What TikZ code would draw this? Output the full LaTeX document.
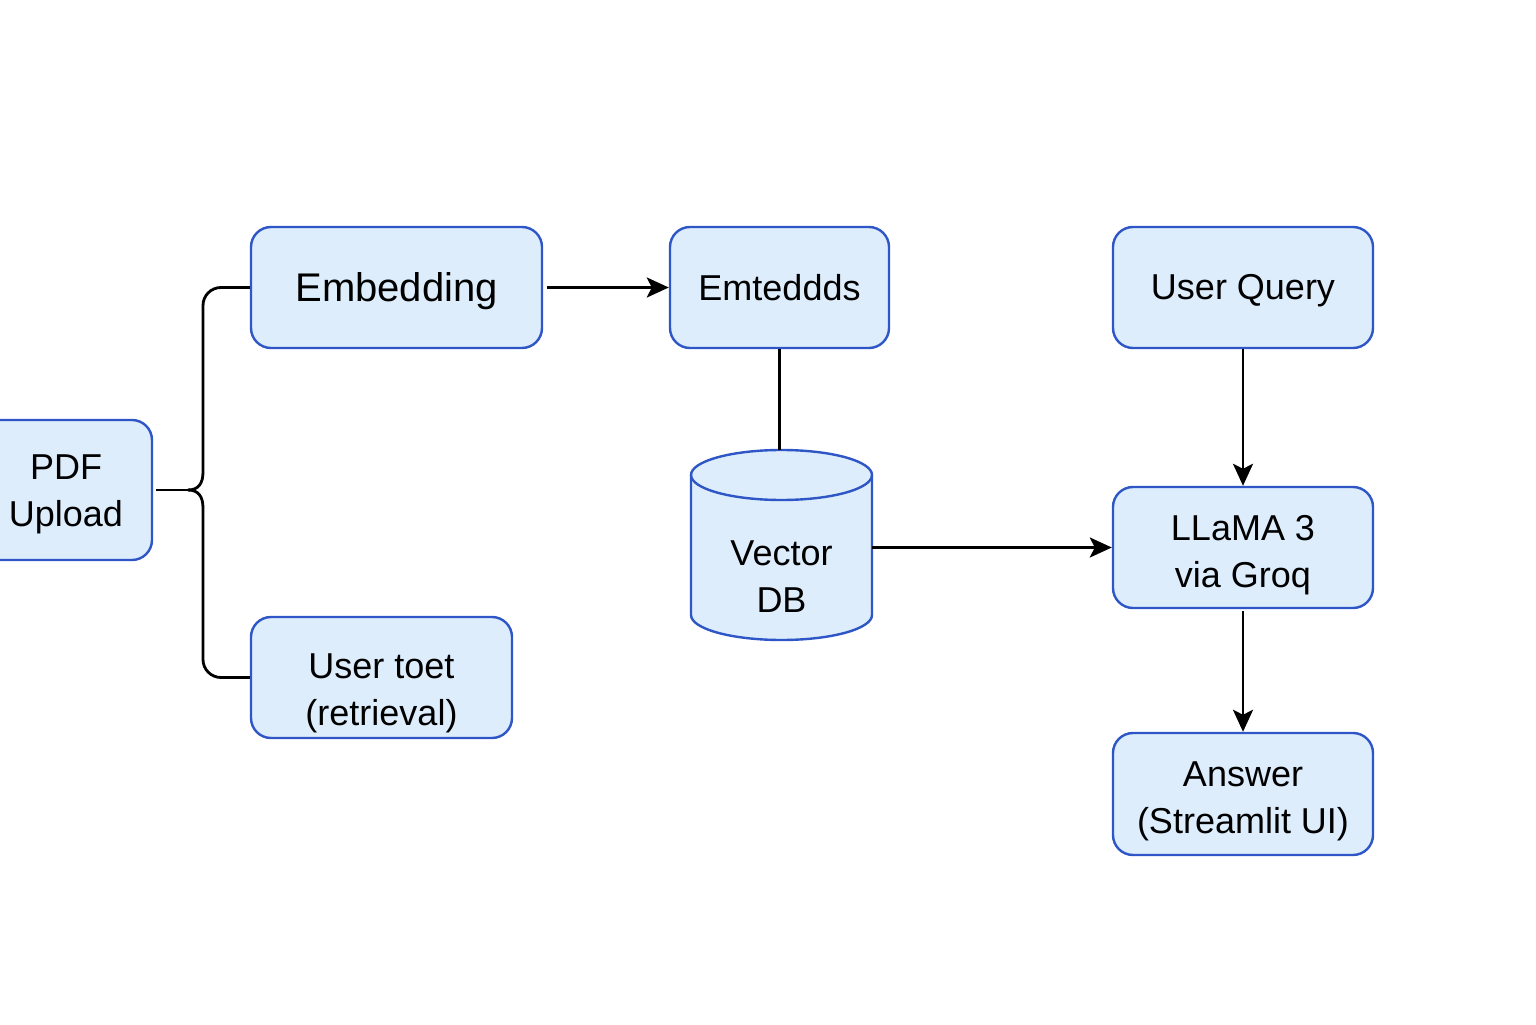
\documentclass[tikz,border=0pt]{standalone}
\usepackage{fontspec}
\setmainfont{Liberation Sans}
\usetikzlibrary{arrows.meta}
\definecolor{boxfill}{HTML}{DDEDFC}
\definecolor{boxdraw}{HTML}{2E56C6}
\newcommand{\strt}[1]{\rule{0pt}{#1}}
\tikzset{
  box/.style={draw=boxdraw, fill=boxfill, line width=1.2pt, rounded corners=10pt,
    align=center, font=\fontsize{18}{23.5}\selectfont, inner sep=0pt},
  conn/.style={line width=1.4pt, draw=black},
  arr/.style={conn, -{Stealth[length=11pt,width=10pt,inset=2.5pt]}},
}
\begin{document}
\begin{tikzpicture}[x=0.5pt,y=0.5pt]
\useasboundingbox (0,0) rectangle (1536,1024);
% nodes
\node[box, minimum width=86pt, minimum height=70pt] (pdf) at (66,534) {\strt{16.6pt}PDF\\Upload};
\node[box, minimum width=145.5pt, minimum height=60.5pt, font=\fontsize{20}{24}\selectfont] (emb) at (396.5,736.5) {\strt{18.6pt}Embedding};
\node[box, minimum width=109.5pt, minimum height=60.5pt] (emt) at (779.5,736.5) {Emteddds};
\node[box, minimum width=130pt, minimum height=60.5pt] (uq) at (1243,736.5) {\strt{16.1pt}User Query};
\node[box, minimum width=130pt, minimum height=60.5pt] (llama) at (1243,476.5) {\strt{20.6pt}LLaMA 3\\via Groq};
\node[box, minimum width=130.5pt, minimum height=60.5pt] (ut) at (381.5,346.5) {\strt{28pt}User toet\\(retrieval)};
\node[box, minimum width=130pt, minimum height=61pt] (ans) at (1243,230) {\strt{19.6pt}Answer\\(Streamlit UI)};
% cylinder
\filldraw[draw=boxdraw, fill=boxfill, line width=1.2pt]
  (691,549) -- (691,409) arc[start angle=180, end angle=360, x radius=90.5, y radius=25]
  -- (872,549) arc[start angle=0, end angle=180, x radius=90.5, y radius=25] -- cycle;
\draw[draw=boxdraw, line width=1.2pt] (691,549) arc[start angle=180, end angle=360, x radius=90.5, y radius=25];
\node[minimum width=90.5pt, minimum height=95pt, inner sep=0pt] (db) at (781.5,479) {};
\node[align=center, font=\fontsize{18}{23.5}\selectfont] (dbtext) at (781.5,447) {Vector\\DB};
% brace connector
\coordinate (tip) at (188,534);
\coordinate (up) at (203,552);
\coordinate (dn) at (203,516);
\draw[conn, rounded corners=9pt] (emb.west) -- (203,736.5) -- (up);
\draw[conn] (up) .. controls (203,540) and (198,534) .. (tip);
\draw[conn] (tip) .. controls (198,534) and (203,528) .. (dn);
\draw[conn, rounded corners=9pt] (dn) -- (203,346.5) -- (ut.west);
\draw[conn] (pdf.east) ++(3,0) -- (tip);
% arrows
\draw[arr, shorten <=2pt] (emb.east) -- (emt.west);
\draw[conn] (emt.south) -- (emt.south |- db.north);
\draw[arr] (db.east |- llama.west) -- (llama.west);
\draw[arr] (uq.south) -- (llama.north);
\draw[arr, shorten <=1pt] (llama.south) -- (ans.north);
\end{tikzpicture}
\end{document}
